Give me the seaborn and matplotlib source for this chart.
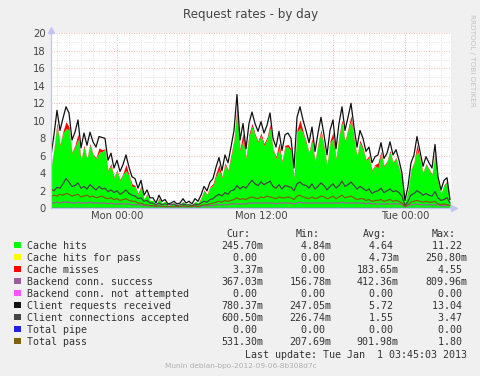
import numpy as np
import pandas as pd
import matplotlib
matplotlib.use('Agg')
import matplotlib.pyplot as plt
from matplotlib.patches import Rectangle
import seaborn as sns

# 15 minute samples
times = pd.date_range('2012-12-30 18:30', periods=134, freq='15min')

client_req = [6.0, 8.4, 11.2, 8.9, 10.3, 11.6, 10.9, 7.8, 8.7, 10.1, 6.9, 8.6, 7.2, 8.7, 7.6, 7.0, 8.2, 8.1, 8.0, 5.5,
              6.3, 4.6, 5.5, 4.2, 5.0, 6.1, 4.7, 3.6, 3.4, 2.3, 3.2, 1.5, 2.1, 1.2,
              1.2, 0.6, 1.5, 0.8, 1.0, 0.5, 0.6, 0.8, 0.5, 0.6, 1.1, 0.6, 0.8, 0.5, 1.1, 0.8, 1.5, 2.5, 2.0, 3.0,
              3.4, 4.7, 5.8, 4.3, 6.1, 5.2, 7.0, 8.9, 13.0, 7.8, 9.7, 6.8, 9.7,
              11.0, 9.7, 8.8, 9.9, 8.6, 9.5, 10.9, 8.0, 7.0, 8.8, 6.6, 8.4, 8.6, 8.0, 4.6, 10.4, 11.6, 10.1, 8.9, 7.5,
              9.3, 6.5, 8.6, 10.4, 8.4, 6.1, 8.9, 10.1, 6.8, 9.7, 11.6, 8.9, 10.4, 12.0,
              9.3, 7.0, 8.9, 8.0, 6.5, 7.0, 5.2, 5.9, 6.1, 7.5, 5.7, 6.3, 7.6, 6.1, 6.7, 5.5, 4.0, 0.9, 2.5, 5.2,
              6.1, 8.2, 6.5, 4.8, 5.9, 5.2, 4.6, 7.3, 3.6, 2.1, 3.2, 3.5, 1.0]

cache_hits = [4.6, 6.8, 9.5, 7.2, 8.6, 9.1, 9.0, 6.3, 7.0, 7.9, 5.5, 7.0, 5.6, 7.2, 6.1, 5.7, 6.4, 6.5, 6.7, 4.3,
              4.9, 3.5, 4.3, 3.2, 3.9, 4.3, 3.7, 2.5, 2.5, 1.6, 2.5, 1.1, 1.6, 0.9,
              0.9, 0.4, 1.1, 0.6, 0.8, 0.3, 0.4, 0.6, 0.3, 0.4, 0.8, 0.4, 0.6, 0.3, 0.8, 0.6, 1.1, 2.0, 1.5, 2.4,
              2.6, 3.7, 4.4, 3.5, 5.0, 4.3, 5.8, 7.7, 11.2, 6.6, 7.8, 5.7, 8.2,
              9.4, 8.3, 7.6, 8.3, 7.2, 7.9, 9.2, 6.7, 5.7, 6.9, 5.3, 7.0, 7.0, 6.6, 3.5, 8.7, 9.2, 8.6, 7.5, 6.3,
              7.7, 5.3, 7.2, 8.7, 6.9, 4.9, 7.5, 8.0, 5.6, 8.2, 9.8, 7.5, 8.9, 10.1,
              7.9, 5.9, 7.5, 6.7, 5.5, 5.8, 4.3, 4.9, 4.6, 6.3, 4.8, 5.3, 6.4, 5.2, 5.7, 4.6, 3.3, 0.7, 2.0, 4.4,
              5.2, 6.7, 5.6, 4.0, 5.0, 4.4, 3.8, 6.3, 3.0, 1.7, 2.6, 3.0, 0.7]

cache_misses = [0.1, 0.1, 0.3, 0.1, 0.2, 0.8, 0.3, 0.1, 0.2, 0.6, 0.1, 0.2, 0.1, 0.2, 0.1, 0.1, 0.5, 0.2, 0.1, 0.1,
                0.2, 0.1, 0.1, 0.1, 0.1, 0.7, 0.1, 0.3, 0.1, 0.1, 0.1, 0.0, 0.1, 0.0,
                0.0, 0.0, 0.1, 0.0, 0.0, 0.0, 0.0, 0.0, 0.0, 0.0, 0.0, 0.0, 0.0, 0.0, 0.0, 0.0, 0.1, 0.1, 0.1, 0.1,
                0.2, 0.3, 0.6, 0.1, 0.2, 0.1, 0.3, 0.2, 0.5, 0.2, 0.8, 0.1, 0.3,
                0.3, 0.2, 0.1, 0.3, 0.2, 0.2, 0.4, 0.1, 0.2, 0.6, 0.1, 0.2, 0.3, 0.2, 0.1, 0.3, 0.9, 0.2, 0.2, 0.1,
                0.3, 0.1, 0.2, 0.3, 0.2, 0.1, 0.2, 0.7, 0.1, 0.2, 0.3, 0.2, 0.2, 0.5,
                0.2, 0.1, 0.3, 0.2, 0.1, 0.2, 0.1, 0.1, 0.6, 0.2, 0.1, 0.1, 0.2, 0.1, 0.1, 0.1, 0.1, 0.0, 0.1, 0.1,
                0.1, 0.6, 0.1, 0.1, 0.1, 0.1, 0.1, 0.2, 0.1, 0.0, 0.1, 0.1, 0.0]

client_conn = [2.2, 2.0, 2.4, 2.3, 2.8, 3.4, 3.0, 2.5, 2.6, 2.9, 2.3, 2.5, 2.2, 2.7, 2.4, 2.1, 2.5, 2.2, 2.3, 1.9,
               2.1, 1.8, 2.0, 1.6, 1.8, 2.1, 1.7, 1.5, 1.4, 1.1, 1.2, 0.8, 0.9, 0.6,
               0.6, 0.4, 0.6, 0.4, 0.5, 0.4, 0.4, 0.5, 0.3, 0.4, 0.5, 0.4, 0.4, 0.3, 0.5, 0.4, 0.6, 0.8, 0.7, 1.0,
               1.1, 1.4, 1.6, 1.4, 1.8, 1.6, 2.0, 2.1, 2.6, 2.2, 2.5, 2.3, 2.8,
               3.2, 2.8, 2.6, 3.0, 2.7, 2.9, 3.1, 2.5, 2.3, 2.7, 2.2, 2.6, 2.5, 2.4, 2.0, 2.8, 3.0, 2.7, 2.6, 2.3,
               2.8, 2.2, 2.5, 2.9, 2.6, 2.1, 2.5, 2.8, 2.3, 2.6, 3.1, 2.5, 2.7, 3.0,
               2.6, 2.2, 2.5, 2.3, 2.0, 2.2, 1.7, 1.9, 2.0, 2.3, 1.8, 2.0, 2.2, 1.9, 2.0, 1.8, 1.4, 0.3, 0.8, 1.5,
               1.7, 2.0, 1.8, 1.5, 1.7, 1.5, 1.4, 1.9, 1.2, 0.9, 1.0, 1.2, 0.6]

total_pass = [1.3, 1.5, 1.4, 1.6, 1.5, 1.7, 1.6, 1.4, 1.5, 1.6, 1.3, 1.4, 1.5, 1.3, 1.4, 1.2, 1.3, 1.4, 1.2, 1.1,
              1.2, 1.0, 1.1, 0.9, 1.0, 1.1, 0.9, 0.8, 0.8, 0.6, 0.6, 0.4, 0.4, 0.3,
              0.3, 0.2, 0.3, 0.2, 0.2, 0.2, 0.2, 0.2, 0.2, 0.2, 0.3, 0.2, 0.2, 0.2, 0.3, 0.2, 0.3, 0.4, 0.4, 0.5,
              0.6, 0.7, 0.8, 0.7, 0.9, 0.8, 0.9, 1.0, 1.2, 1.0, 1.1, 1.0, 1.2,
              1.3, 1.2, 1.1, 1.3, 1.2, 1.4, 1.3, 1.2, 1.1, 1.3, 1.2, 1.2, 1.3, 1.2, 1.0, 1.4, 1.5, 1.3, 1.2, 1.1,
              1.3, 1.1, 1.2, 1.4, 1.3, 1.1, 1.2, 1.4, 1.1, 1.3, 1.5, 1.2, 1.3, 1.4,
              1.2, 1.0, 1.1, 1.1, 0.9, 1.0, 0.8, 0.9, 0.9, 1.0, 0.8, 0.9, 1.0, 0.8, 0.9, 0.8, 0.6, 0.2, 0.4, 0.7,
              0.8, 0.9, 0.8, 0.7, 0.8, 0.7, 0.7, 0.8, 0.5, 0.4, 0.5, 0.4, 0.3]

backend_conn = [0.6, 0.6, 0.7, 0.6, 0.7, 0.7, 0.7, 0.6, 0.6, 0.7, 0.6, 0.6, 0.6, 0.7, 0.6, 0.6, 0.6, 0.6, 0.6, 0.5,
                0.6, 0.5, 0.5, 0.5, 0.5, 0.5, 0.5, 0.4, 0.4, 0.4, 0.4, 0.3, 0.3, 0.3,
                0.3, 0.2, 0.3, 0.2, 0.2, 0.2, 0.2, 0.2, 0.2, 0.2, 0.2, 0.2, 0.2, 0.2, 0.2, 0.2, 0.2, 0.3, 0.3, 0.3,
                0.3, 0.4, 0.4, 0.4, 0.4, 0.4, 0.5, 0.5, 0.5, 0.5, 0.5, 0.5, 0.6,
                0.6, 0.6, 0.6, 0.6, 0.6, 0.6, 0.6, 0.6, 0.5, 0.6, 0.6, 0.6, 0.6, 0.6, 0.5, 0.6, 0.7, 0.6, 0.6, 0.6,
                0.6, 0.6, 0.6, 0.6, 0.6, 0.6, 0.6, 0.6, 0.6, 0.6, 0.7, 0.6, 0.6, 0.6,
                0.6, 0.6, 0.6, 0.6, 0.5, 0.6, 0.5, 0.5, 0.5, 0.5, 0.5, 0.5, 0.5, 0.5, 0.5, 0.5, 0.4, 0.2, 0.3, 0.4,
                0.4, 0.5, 0.4, 0.4, 0.4, 0.4, 0.4, 0.4, 0.4, 0.3, 0.3, 0.3, 0.4]

zeros = [0.0] * len(times)  # hit-for-pass, not attempted, pipe

legend_rows = [
    ('Cache hits', '#00ff00', '245.70m', '4.84m', '4.64', '11.22'),
    ('Cache hits for pass', '#ffff00', '0.00', '0.00', '4.73m', '250.80m'),
    ('Cache misses', '#ff0000', '3.37m', '0.00', '183.65m', '4.55'),
    ('Backend conn. success', '#a05aa0', '367.03m', '156.78m', '412.36m', '809.96m'),
    ('Backend conn. not attempted', '#ff55ff', '0.00', '0.00', '0.00', '0.00'),
    ('Client requests received', '#111111', '780.37m', '247.05m', '5.72', '13.04'),
    ('Client connections accepted', '#444444', '600.50m', '226.74m', '1.55', '3.47'),
    ('Total pipe', '#2222dd', '0.00', '0.00', '0.00', '0.00'),
    ('Total pass', '#7f5f10', '531.30m', '207.69m', '901.98m', '1.80'),
]

sns.set_style('white')
plt.rcParams['font.family'] = ['DejaVu Sans']

W, H = 481, 376
fig = plt.figure(figsize=(W / 100, H / 100), dpi=100, facecolor='#f0f0f0')


def fx(x):
    return x / W


def fy(y):
    return 1 - y / H


ax = fig.add_axes([fx(51), fy(208.3), fx(451) - fx(51), fy(33.3) - fy(208.3)])
ax.set_facecolor('white')

t0 = times[0]
t1 = t0 + pd.Timedelta(hours=33, minutes=20)

# grid
for h in pd.date_range('2012-12-30 19:00', '2013-01-01 03:00', freq='h'):
    major = h.hour % 6 == 0
    ax.axvline(h, color='#f4a0a0' if major else '#d8d8d8', lw=0.6,
               ls=(0, (1, 2)), zorder=0.5)
for v in range(1, 21):
    ax.axhline(v, color='#f4a0a0' if v % 2 == 0 else '#d8d8d8', lw=0.6,
               ls=(0, (1, 2)), zorder=0.5)

hits = np.array(cache_hits)
hitpass = np.array(zeros)
miss = np.array(cache_misses)
ax.fill_between(times, 0, hits, color='#00ff00', lw=0, zorder=1)
ax.fill_between(times, hits, hits + hitpass, color='#ffff00', lw=0, zorder=1)
ax.fill_between(times, hits + hitpass, hits + hitpass + miss, color='#ff0000', lw=0, zorder=1)

lines = [
    (backend_conn, '#a05aa0'),
    (zeros, '#ff55ff'),
    (client_req, '#111111'),
    (client_conn, '#444444'),
    (zeros, '#2222dd'),
    (total_pass, '#7f5f10'),
]
for vals, col in lines:
    sns.lineplot(x=times, y=vals, ax=ax, color=col, lw=0.9, zorder=2)

ax.set_xlim(t0, t1)
ax.set_ylim(0, 20)
ax.set_yticks(range(0, 21, 2))
ax.set_yticklabels([str(v) for v in range(0, 21, 2)])
ax.set_xticks(pd.to_datetime(['2012-12-31 00:00', '2012-12-31 12:00', '2013-01-01 00:00']))
ax.set_xticklabels(['Mon 00:00', 'Mon 12:00', 'Tue 00:00'])
ax.tick_params(axis='y', length=0, pad=4, labelsize=7.2, labelcolor='#444444')
ax.tick_params(axis='x', length=0, pad=2, labelsize=7.2, labelcolor='#444444')
ax.set_xlabel('')
ax.set_ylabel('')
for s in ['top', 'right']:
    ax.spines[s].set_visible(False)
for s in ['left', 'bottom']:
    ax.spines[s].set_color('#c4c4f0')
    ax.spines[s].set_linewidth(0.9)
    ax.spines[s].set_zorder(3)
ax.plot([0], [1.02], marker='^', ms=4, color='#c4c4f0', transform=ax.transAxes, clip_on=False)
ax.plot([0], [1.0], marker='', transform=ax.transAxes)
ax.plot([0, 0], [1.0, 1.02], color='#c4c4f0', lw=0.9, transform=ax.transAxes, clip_on=False)
ax.plot([1.0, 1.005], [0, 0], color='#c4c4f0', lw=0.9, transform=ax.transAxes, clip_on=False)
ax.plot([1.008], [0], marker='>', ms=4, color='#c4c4f0', transform=ax.transAxes, clip_on=False)

fig.text(fx(251), fy(18.3), 'Request rates - by day', ha='center', va='baseline',
         fontsize=8.6, color='#444444')
fig.text(fx(472), fy(14), 'RRDTOOL / TOBI OETIKER', rotation=270, ha='center', va='top',
         fontsize=5.2, color='#c4c4c4')

mono = 'DejaVu Sans Mono'
fs = 7.2
tc = '#333333'
for x, lab in [(226.7, 'Cur:'), (295.7, 'Min:'), (363, 'Avg:'), (432, 'Max:')]:
    fig.text(fx(x), fy(237.3), lab, family=mono, fontsize=fs, color=tc, va='baseline')

cols = [221, 289.3, 356.7, 425.7]
for k, (name, col, *vals) in enumerate(legend_rows):
    base = 249 + 12.05 * k
    fig.patches.append(Rectangle((fx(14.5), fy(base - 1.5)), fx(6), fy(0) - fy(6),
                                 transform=fig.transFigure, color=col, lw=0))
    fig.text(fx(26.7), fy(base), name, family=mono, fontsize=fs, color=tc, va='baseline')
    for cx, v in zip(cols, vals):
        num, suf = (v[:-1], 'm') if v.endswith('m') else (v, ' ')
        fig.text(fx(cx), fy(base), f'{num:>6}{suf}', family=mono, fontsize=fs,
                 color=tc, va='baseline')

fig.text(fx(466.7), fy(357.7), 'Last update: Tue Jan  1 03:45:03 2013', family=mono,
         fontsize=fs, color=tc, ha='right', va='baseline')
fig.text(fx(241), fy(368.3), 'Munin debian-bpo-2012-09-06-8b308d7c', ha='center',
         va='baseline', fontsize=5.3, color='#b0b0b0')

fig.savefig('out.png', dpi=100, facecolor=fig.get_facecolor())
